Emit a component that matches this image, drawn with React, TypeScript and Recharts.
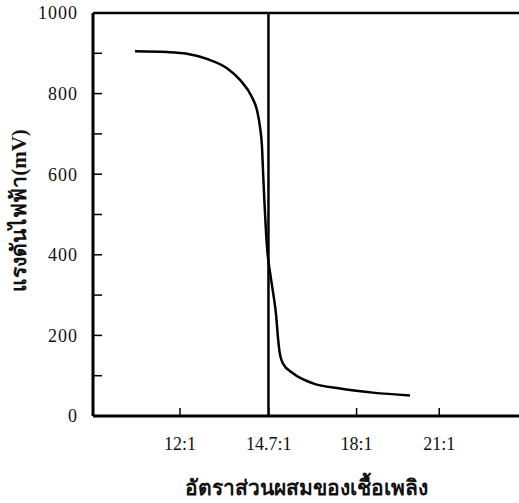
import { LineChart, Line, XAxis, YAxis, ReferenceLine, Label } from "recharts"

// ตำแหน่งบนแกนอัตราส่วน (หน่วยตามระยะห่างของ tick) และแรงดันที่อ่านได้ (mV)
const ratioPos = [
  0.483, 0.851, 1.08, 1.31, 1.54, 1.69, 1.828, 1.885, 1.92, 1.943, 1.956, 1.971, 1.988, 2.006,
  2.034, 2.069, 2.105, 2.126, 2.142, 2.184, 2.299, 2.529, 2.839, 3.218, 3.644,
]
const voltage = [
  905, 903, 899, 886, 863, 834, 791, 759, 717, 667, 600, 530, 460, 405,
  358, 308, 250, 195, 163, 130, 106, 81, 68, 58, 51,
]

const ratioTicks = [1.0, 2.02, 3.03, 3.98]
const ratioLabels = ["12:1", "14.7:1", "18:1", "21:1"]
const STOICH_POS = 2.017
const X_MAX = 4.897

const voltTicks = [0, 100, 200, 300, 400, 500, 600, 700, 800, 900, 1000]

const data = ratioPos.map((pos, i) => ({ pos, mv: voltage[i] }))

const FONT = "'Times New Roman', Times, 'Liberation Serif', 'DejaVu Serif', serif"

const XTick = ({ x, y, payload }: any) => {
  const idx = ratioTicks.indexOf(payload.value)
  return (
    <g>
      <line x1={x} x2={x} y1={y} y2={y - 8} stroke="#000" strokeWidth={1.5} />
      <text x={x} y={y + 34} textAnchor="middle" style={{ fontFamily: FONT, fontSize: 18 }} fill="#111">
        {ratioLabels[idx]}
      </text>
    </g>
  )
}

const YTick = ({ x, y, payload }: any) => {
  const v = payload.value
  return (
    <g>
      <line x1={x} x2={x + 9} y1={y} y2={y} stroke="#000" strokeWidth={1.5} />
      {v % 200 === 0 && (
        <text
          x={x - 15}
          y={y}
          dy="0.35em"
          textAnchor="end"
          style={{ fontFamily: FONT, fontSize: 18, letterSpacing: 1 }}
          fill="#111"
        >
          {v}
        </text>
      )}
    </g>
  )
}

export default function App() {
  return (
    <div style={{ position: "absolute", left: 0, top: 0, width: 519, height: 503, overflow: "hidden", background: "#fff" }}>
      <LineChart width={519} height={503} data={data} margin={{ top: 13, right: 0, left: 0, bottom: 0 }}>
        <XAxis
          dataKey="pos"
          type="number"
          domain={[0, X_MAX]}
          ticks={ratioTicks}
          interval={0}
          allowDataOverflow
          height={87}
          tickSize={0}
          tickMargin={0}
          tickLine={false}
          tick={<XTick />}
          axisLine={{ stroke: "#000", strokeWidth: 3 }}
        >
          <Label
            value="อัตราส่วนผสมของเชื้อเพลิง"
            position="insideBottom"
            offset={8}
            style={{ fontFamily: FONT, fontSize: 21, fontWeight: 600, fill: "#111" }}
          />
        </XAxis>
        <YAxis
          type="number"
          domain={[0, 1000]}
          ticks={voltTicks}
          interval={0}
          width={93}
          tickSize={0}
          tickMargin={0}
          tickLine={false}
          tick={<YTick />}
          axisLine={{ stroke: "#000", strokeWidth: 3 }}
        >
          <Label
            content={(p: any) => {
              const vb = p.viewBox
              return (
                <text
                  transform={`translate(19, ${vb.y + vb.height / 2 - 4}) rotate(-90)`}
                  textAnchor="middle"
                  dominantBaseline="central"
                  style={{ fontFamily: FONT, fontSize: 21, fontWeight: 600 }}
                  fill="#111"
                >
                  แรงดันไฟฟ้า(mV)
                </text>
              )
            }}
          />
        </YAxis>
        <ReferenceLine y={1000} stroke="#000" strokeWidth={2.5} />
        <ReferenceLine x={STOICH_POS} stroke="#000" strokeWidth={2.5} />
        <Line
          type="monotone"
          dataKey="mv"
          stroke="#000"
          strokeWidth={2.5}
          dot={false}
          isAnimationActive={false}
        />
      </LineChart>
    </div>
  )
}
